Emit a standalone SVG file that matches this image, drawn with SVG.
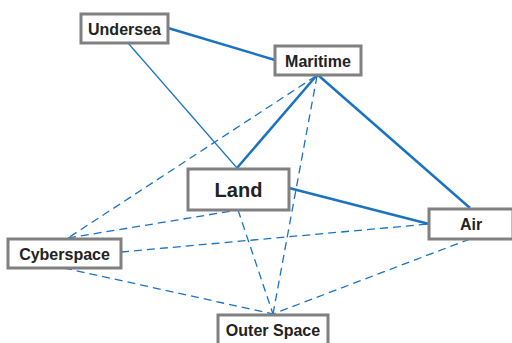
<svg xmlns="http://www.w3.org/2000/svg" width="512" height="343" viewBox="0 0 512 343">
<style>
.box{fill:#fff;stroke:#808080;stroke-width:3}
.t{font-family:"Liberation Sans",Arial,sans-serif;font-weight:bold;font-size:16px;fill:#222;text-anchor:middle}
.big{font-size:20px}
.thick{stroke:#1a73c2;stroke-width:2.5;fill:none}
.thin{stroke:#1a73c2;stroke-width:1.2;fill:none}
.dash{stroke:#1a73c2;stroke-width:1.3;fill:none;stroke-dasharray:8,5}
</style>
<rect width="512" height="343" fill="#fff"/>
<g id="connectors">
<line class="thick" x1="168" y1="28" x2="275" y2="60"/>
<line class="thin" x1="128" y1="43" x2="237" y2="168"/>
<line class="thick" x1="317" y1="75" x2="237" y2="168"/>
<line class="thick" x1="318" y1="75" x2="470" y2="208"/>
<line class="thick" x1="289" y1="188" x2="429" y2="224"/>
<line class="dash" x1="316" y1="76" x2="68" y2="238"/>
<line class="dash" x1="317" y1="76" x2="273" y2="314"/>
<line class="dash" x1="68" y1="238" x2="238" y2="210"/>
<line class="dash" x1="238" y1="210" x2="273" y2="314"/>
<line class="dash" x1="121" y1="252" x2="429" y2="224"/>
<line class="dash" x1="64" y1="268" x2="273" y2="314"/>
<line class="dash" x1="470" y1="239" x2="273" y2="314"/>
</g>
<g id="undersea"><rect class="box" x="81" y="14" width="87" height="29"/><text class="t" x="124.5" y="34.5">Undersea</text></g>
<g id="maritime"><rect class="box" x="275" y="46" width="86" height="29"/><text class="t" x="318" y="66.5">Maritime</text></g>
<g id="land"><rect class="box" x="188" y="169" width="101" height="41"/><text class="t big" x="238.5" y="197">Land</text></g>
<g id="air"><rect class="box" x="429" y="209" width="84" height="30"/><text class="t" x="471" y="229.5">Air</text></g>
<g id="cyberspace"><rect class="box" x="8" y="239" width="113" height="29"/><text class="t" x="64.5" y="259.5">Cyberspace</text></g>
<g id="outerspace"><rect class="box" x="218" y="315" width="110" height="32"/><text class="t" x="273" y="335.5">Outer Space</text></g>
</svg>
